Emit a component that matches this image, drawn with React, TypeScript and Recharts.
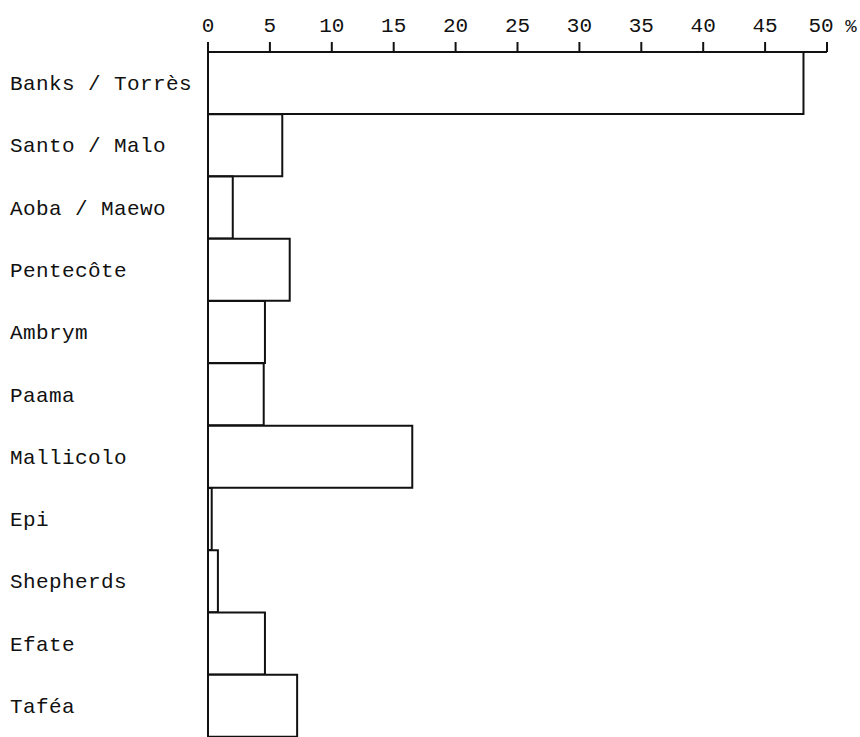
import React from 'react';
import { BarChart, Bar, XAxis, YAxis } from 'recharts';

const islands = [
  'Banks / Torrès',
  'Santo / Malo',
  'Aoba / Maewo',
  'Pentecôte',
  'Ambrym',
  'Paama',
  'Mallicolo',
  'Epi',
  'Shepherds',
  'Efate',
  'Taféa',
];
const shares = [48.1, 6, 2, 6.6, 4.6, 4.5, 16.5, 0.3, 0.8, 4.6, 7.2];
const pctTicks = [0, 5, 10, 15, 20, 25, 30, 35, 40, 45, 50];

const data = islands.map((name, i) => ({ name, value: shares[i] }));

const font = '"Liberation Mono", "DejaVu Sans Mono", monospace';

const IslandTick = (props: any) => {
  const { y, payload } = props;
  return (
    <text x={10} y={y} dy={7} fontFamily={font} fontSize={21} letterSpacing={0.4} fill="#111" textAnchor="start">
      {payload.value}
    </text>
  );
};

const PctTick = (props: any) => {
  const { x, y, payload } = props;
  return (
    <g>
      <text x={payload.value === 50 ? x - 6 : x} y={y} fontFamily={font} fontSize={21} fill="#111" textAnchor="middle">
        {payload.value}
      </text>
      {payload.value === 50 && (
        <text x={x + 24} y={y} fontFamily={font} fontSize={19} fill="#111" textAnchor="middle">
          %
        </text>
      )}
    </g>
  );
};

export default function App() {
  return (
    <div style={{ position: 'absolute', left: 0, top: 0, background: '#fff' }}>
      <BarChart
        width={860}
        height={737}
        data={data}
        layout="vertical"
        barCategoryGap={0}
        margin={{ top: 22, right: 33, bottom: 0, left: 0 }}
      >
        <XAxis
          type="number"
          orientation="top"
          domain={[0, 50]}
          ticks={pctTicks}
          interval={0}
          axisLine={{ stroke: '#111', strokeWidth: 2 }}
          tickLine={{ stroke: '#111', strokeWidth: 2 }}
          tickSize={10}
          tickMargin={10}
          tick={<PctTick />}
          height={30}
        />
        <YAxis
          type="category"
          dataKey="name"
          width={208}
          axisLine={{ stroke: '#111', strokeWidth: 2 }}
          tickLine={false}
          tick={<IslandTick />}
          interval={0}
        />
        <Bar dataKey="value" fill="#fff" stroke="#111" strokeWidth={2} isAnimationActive={false} />
      </BarChart>
    </div>
  );
}
